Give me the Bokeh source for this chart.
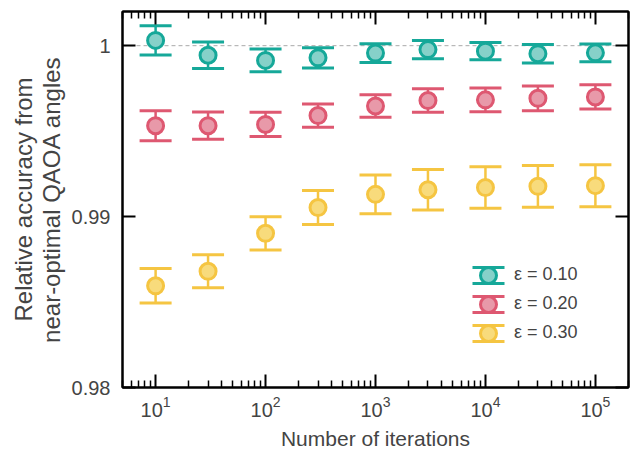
from bokeh.plotting import figure
from bokeh.models import (ColumnDataSource, Whisker, TeeHead, Span, Legend, LegendItem,
                          LogAxis, LinearAxis, FixedTicker, NumeralTickFormatter,
                          LogTickFormatter)
from bokeh.embed import file_html
from bokeh.resources import INLINE

# Number of optimizer iterations (x positions)
iterations = [10, 30, 100, 300, 1000, 3000, 10000, 30000, 100000]

# Relative accuracy (mean) and error half-widths for each noise level
acc_eps010 = [1.00031, 0.99944, 0.99914, 0.99929, 0.99957, 0.99977, 0.99968, 0.99953, 0.99958]
err_eps010 = [0.00086, 0.00077, 0.00066, 0.00059, 0.00055, 0.00054, 0.00051, 0.00054, 0.00052]

acc_eps020 = [0.99532, 0.99532, 0.99539, 0.99591, 0.99647, 0.99679, 0.99683, 0.99692, 0.99700]
err_eps020 = [0.00088, 0.00080, 0.00071, 0.00068, 0.00066, 0.00069, 0.00069, 0.00072, 0.00071]

acc_eps030 = [0.98595, 0.98680, 0.98902, 0.99053, 0.99130, 0.99157, 0.99170, 0.99177, 0.99181]
err_eps030 = [0.00101, 0.00096, 0.00097, 0.00100, 0.00114, 0.00118, 0.00121, 0.00122, 0.00123]

series_labels = ["\u03b5 = 0.10", "\u03b5 = 0.20", "\u03b5 = 0.30"]
line_colors = ["#16a899", "#de5871", "#f5c542"]
fill_colors = ["#86d1c9", "#e899a9", "#f8db7c"]

x_major = [10, 100, 1000, 10000, 100000]
y_major = [0.98, 0.99, 1.0]
reference_level = 1.0

FONT = "Liberation Sans"

x_minor = [k * 10 ** e for e in range(0, 6) for k in range(2, 10) if 5 <= k * 10 ** e <= 2e5]

p = figure(x_axis_type="log", x_range=(5, 2e5), y_range=(0.98, 1.002),
           frame_width=506, frame_height=376,
           min_border_left=122, min_border_right=5, min_border_top=11, min_border_bottom=62,
           output_backend="svg", toolbar_location=None)
p.xgrid.visible = False
p.ygrid.visible = False
p.outline_line_color = "black"
p.outline_line_width = 2
p.background_fill_color = "white"
p.border_fill_color = "white"


def style_axis(ax):
    ax.axis_line_color = "black"
    ax.axis_line_width = 2
    ax.major_tick_in = 13
    ax.major_tick_out = 0
    ax.minor_tick_in = 7
    ax.minor_tick_out = 0
    ax.major_tick_line_width = 2
    ax.minor_tick_line_width = 1.5
    ax.major_tick_line_color = "black"
    ax.minor_tick_line_color = "black"


def hide_labels(ax):
    ax.major_label_text_color = None
    ax.major_label_text_font_size = "1px"
    ax.major_label_standoff = 0


# bottom x axis
xax = p.xaxis[0]
xax.ticker = FixedTicker(ticks=x_major, minor_ticks=x_minor)
xax.formatter = LogTickFormatter()
style_axis(xax)
xax.major_label_text_font = FONT
xax.major_label_text_font_size = "20px"
xax.major_label_standoff = 8
xax.axis_label = "Number of iterations"
xax.axis_label_text_font = FONT
xax.axis_label_text_font_size = "21px"
xax.axis_label_text_font_style = "normal"
xax.axis_label_standoff = 7

# left y axis
yax = p.yaxis[0]
yax.ticker = FixedTicker(ticks=y_major, minor_ticks=[])
yax.formatter = NumeralTickFormatter(format="0.[00]")
style_axis(yax)
yax.major_label_text_font = FONT
yax.major_label_text_font_size = "20px"
yax.major_label_standoff = 12
yax.axis_label = "Relative accuracy from\nnear-optimal QAOA angles"
yax.axis_label_text_font = FONT
yax.axis_label_text_font_size = "24px"
yax.axis_label_text_font_style = "normal"
yax.axis_label_text_line_height = 1.02
yax.axis_label_standoff = 4

# mirrored axes on top and right
top_ax = LogAxis(ticker=FixedTicker(ticks=x_major, minor_ticks=x_minor))
style_axis(top_ax)
hide_labels(top_ax)
p.add_layout(top_ax, "above")

right_ax = LinearAxis(ticker=FixedTicker(ticks=y_major, minor_ticks=[]))
style_axis(right_ax)
hide_labels(right_ax)
p.add_layout(right_ax, "right")

# dashed reference line at accuracy 1
p.add_layout(Span(location=reference_level, dimension="width", line_color="#aaaaaa",
                  line_width=1, line_dash="4 3", level="underlay"))

legend_items = []
for acc, err, lbl, lc, fc in zip([acc_eps010, acc_eps020, acc_eps030],
                                 [err_eps010, err_eps020, err_eps030],
                                 series_labels, line_colors, fill_colors):
    src = ColumnDataSource(dict(
        x=iterations, y=acc,
        upper=[a + e for a, e in zip(acc, err)],
        lower=[a - e for a, e in zip(acc, err)],
    ))
    whisker = Whisker(base="x", upper="upper", lower="lower", source=src,
                      dimension="height", level="underlay",
                      line_color=lc, line_width=2.5,
                      upper_head=TeeHead(size=32, line_color=lc, line_width=3),
                      lower_head=TeeHead(size=32, line_color=lc, line_width=3))
    p.add_layout(whisker)
    # zero-size rects: only their dashed outline shows up as caps in the legend key
    caps = p.rect(x="x", y="y", width=0, height=0, source=src, fill_color=None,
                  line_color=lc, line_width=3, line_dash="32 16")
    dots = p.ellipse(x="x", y="y", width=16, height=16, width_units="screen",
                     height_units="screen", source=src, fill_color=fc,
                     line_color=lc, line_width=3)
    legend_items.append(LegendItem(label=lbl, renderers=[caps, dots]))

legend = Legend(items=legend_items, location=(346, 44), orientation="vertical",
                glyph_width=40, glyph_height=20, label_height=21, spacing=8,
                padding=0, margin=0, label_standoff=6,
                border_line_color=None, background_fill_alpha=0,
                label_text_font=FONT, label_text_font_size="18px")
p.add_layout(legend)

open("out.html", "w").write(file_html(p, INLINE))
